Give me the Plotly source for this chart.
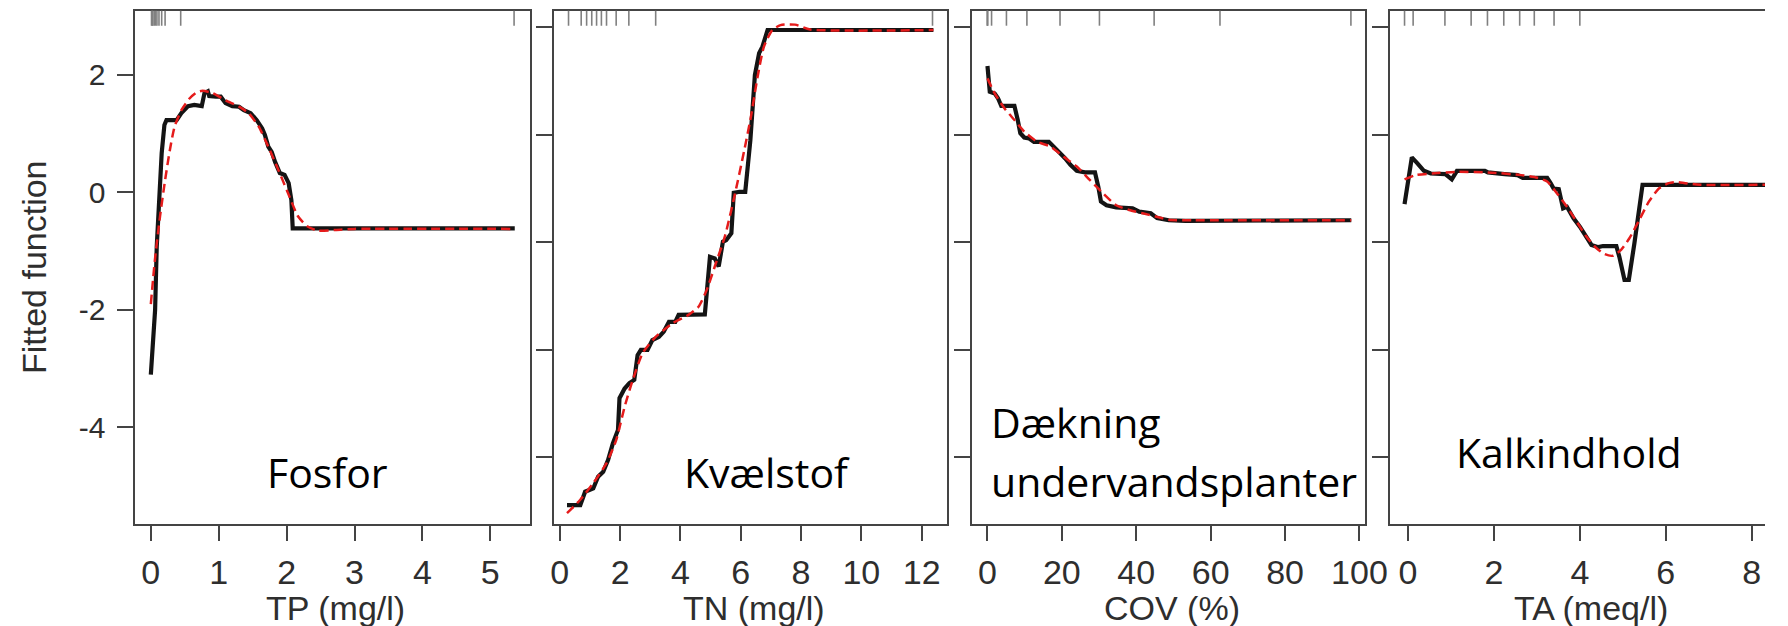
import plotly.graph_objects as go

# ---------------- data ----------------
# Panel 1: TP (mg/l)
tp_x = [0.0, 0.063, 0.087, 0.12, 0.16, 0.20, 0.23, 0.38, 0.45, 0.55, 0.64, 0.75, 0.79, 0.84, 0.86, 0.96,
        1.03, 1.10, 1.20, 1.30, 1.37, 1.47, 1.56, 1.64, 1.68, 1.73, 1.78, 1.83, 1.90, 1.97, 2.03, 2.07, 2.09, 5.36]
tp_y = [-3.1, -2.0, -0.92, -0.01, 0.67, 1.15, 1.23, 1.23, 1.35, 1.47, 1.49, 1.47, 1.69, 1.72, 1.64, 1.63,
        1.63, 1.52, 1.47, 1.46, 1.40, 1.35, 1.23, 1.09, 0.98, 0.78, 0.69, 0.52, 0.33, 0.30, 0.16, -0.13, -0.61, -0.61]
tp_sx = [0.0, 0.06, 0.135, 0.21, 0.28, 0.35, 0.45, 0.57, 0.67, 0.76, 0.91, 1.10, 1.30, 1.44, 1.59, 1.73,
         1.88, 2.02, 2.17, 2.31, 2.46, 2.70, 3.0, 5.36]
tp_sy = [-1.9, -1.15, -0.41, 0.21, 0.72, 1.12, 1.40, 1.60, 1.70, 1.73, 1.69, 1.57, 1.46, 1.35, 1.12, 0.78,
         0.38, -0.01, -0.41, -0.58, -0.65, -0.64, -0.62, -0.62]
tp_rug = [0.01, 0.02, 0.03, 0.05, 0.07, 0.09, 0.12, 0.16, 0.21, 0.44, 5.35]

# Panel 2: TN (mg/l)
tn_x = [0.24, 0.68, 0.84, 1.11, 1.27, 1.44, 1.60, 1.76, 1.93, 1.98, 2.15, 2.31, 2.47, 2.58, 2.69, 2.91, 3.07,
        3.29, 3.45, 3.62, 3.83, 3.94, 4.81, 4.98, 5.14, 5.27, 5.41, 5.52, 5.69, 5.77, 5.96, 6.15, 6.32, 6.43,
        6.47, 6.61, 6.72, 6.89, 12.39]
tn_y = [-4.89, -4.89, -4.64, -4.58, -4.36, -4.27, -4.05, -3.74, -3.49, -2.90, -2.72, -2.62, -2.56, -2.10,
        -2.00, -2.00, -1.82, -1.76, -1.66, -1.48, -1.48, -1.35, -1.34, -0.27, -0.30, -0.45, 0.01, 0.04, 0.17,
        0.92, 0.94, 0.94, 1.90, 2.77, 3.11, 3.52, 3.64, 3.95, 3.95]
tn_sx = [0.24, 0.68, 1.11, 1.55, 1.87, 2.15, 2.42, 2.75, 3.18, 3.73, 4.27, 4.60, 4.87, 5.14, 5.47, 5.79, 6.12,
         6.34, 6.56, 6.77, 7.05, 7.32, 7.8, 8.3, 12.39]
tn_sy = [-5.04, -4.79, -4.48, -4.11, -3.68, -3.06, -2.56, -2.06, -1.76, -1.51, -1.35, -1.20, -0.89, -0.45,
         0.10, 0.85, 1.72, 2.34, 3.08, 3.64, 3.95, 4.04, 4.05, 3.96, 3.95]
tn_rug = [0.29, 0.71, 0.89, 1.06, 1.22, 1.38, 1.55, 1.87, 2.29, 3.18, 12.36]

# Panel 3: COV (%)
cov_x = [0.0, 0.62, 1.94, 2.83, 3.71, 7.24, 8.12, 8.83, 9.89, 11.2, 12.5, 16.5, 17.8, 19.6, 20.9, 22.3, 24.0,
         26.2, 28.9, 29.8, 30.5, 32.0, 34.6, 39.0, 40.8, 43.9, 45.6, 48.7, 53.2, 97.8]
cov_y = [3.28, 2.80, 2.77, 2.68, 2.54, 2.54, 2.28, 2.03, 1.95, 1.93, 1.87, 1.87, 1.78, 1.66, 1.56, 1.44, 1.33,
         1.30, 1.30, 1.03, 0.76, 0.69, 0.65, 0.63, 0.57, 0.54, 0.45, 0.41, 0.40, 0.41]
cov_sx = [0.0, 1.94, 4.6, 7.2, 9.9, 13.4, 17.0, 20.5, 24.0, 27.5, 31.1, 34.6, 38.1, 41.7, 45.2, 48.7, 55.0, 97.8]
cov_sy = [3.05, 2.77, 2.49, 2.28, 2.06, 1.87, 1.78, 1.59, 1.41, 1.16, 0.91, 0.69, 0.60, 0.54, 0.48, 0.42, 0.41, 0.41]
cov_rug = [0.0, 0.0, 0.0, 1.1, 5.1, 10.6, 19.5, 30.1, 44.8, 62.5, 97.7]

# Panel 4: TA (meq/l)
ta_x = [-0.08, 0.09, 0.22, 0.37, 0.53, 0.87, 1.02, 1.14, 1.79, 1.86, 2.25, 2.55, 2.67, 3.24, 3.32, 3.39, 3.51,
        3.55, 3.61, 3.70, 3.85, 4.00, 4.16, 4.27, 4.43, 4.54, 4.85, 4.92, 5.04, 5.14, 5.27, 5.38, 5.46, 8.4]
ta_y = [0.71, 1.58, 1.47, 1.33, 1.28, 1.27, 1.17, 1.33, 1.33, 1.30, 1.27, 1.25, 1.20, 1.20, 1.10, 1.00, 0.99,
        0.82, 0.63, 0.66, 0.45, 0.29, 0.07, -0.05, -0.09, -0.07, -0.07, -0.27, -0.70, -0.70, -0.02, 0.54, 1.07, 1.07]
ta_sx = [-0.08, 0.18, 0.56, 1.10, 1.86, 2.63, 3.01, 3.24, 3.47, 3.70, 3.93, 4.16, 4.39, 4.58, 4.77, 4.96, 5.15,
         5.38, 5.61, 5.84, 6.07, 6.26, 6.45, 6.8, 8.4]
ta_sy = [1.17, 1.25, 1.28, 1.31, 1.30, 1.25, 1.20, 1.13, 0.91, 0.66, 0.38, 0.10, -0.11, -0.22, -0.25, -0.14,
         0.07, 0.41, 0.76, 1.00, 1.10, 1.12, 1.10, 1.07, 1.07]
ta_rug = [-0.08, 0.12, 0.86, 1.47, 1.85, 2.23, 2.60, 2.94, 3.40, 4.00, 8.4]

x_titles = ["TP (mg/l)", "TN (mg/l)", "COV (%)", "TA (meq/l)"]
x_ticks = [[0, 1, 2, 3, 4, 5], [0, 2, 4, 6, 8, 10, 12], [0, 20, 40, 60, 80, 100], [0, 2, 4, 6, 8]]
y_ticks_first = [-4, -2, 0, 2]
y_ticks_other = [-4, -2, 0, 2, 4]
y_title = "Fitted function"

# ---------------- layout geometry ----------------
W, H = 1788, 626
x_domains = [(134.3, 534.6), (559, 957.7), (983.3, 1382.3), (1407.7, 1788)]
y_dom = ((H - 524) / H, (H - 10.7) / H)
x_ranges = [[-0.228, 5.582], [-0.196, 12.833], [-4.159, 101.54], [-0.413, 8.31]]
y_range_first = [-5.643, 3.094]
y_range_other = [-5.241, 4.309]

panels = [
    (tp_x, tp_y, tp_sx, tp_sy, tp_rug),
    (tn_x, tn_y, tn_sx, tn_sy, tn_rug),
    (cov_x, cov_y, cov_sx, cov_sy, cov_rug),
    (ta_x, ta_y, ta_sx, ta_sy, ta_rug),
]

AX = "#444444"
TXT = "#2e2e2e"
fig = go.Figure()
shapes = []
for i, (fx, fy, sx, sy, rug) in enumerate(panels):
    n = "" if i == 0 else str(i + 1)
    fig.add_trace(go.Scatter(x=fx, y=fy, mode="lines", line=dict(color="#141414", width=4.2),
                             xaxis="x" + n, yaxis="y" + n, showlegend=False, hoverinfo="skip"))
    fig.add_trace(go.Scatter(x=sx, y=sy, mode="lines", line=dict(color="#e51b1b", width=2.5, dash="9px,5px",
                             shape="spline", smoothing=0.6),
                             xaxis="x" + n, yaxis="y" + n, showlegend=False, hoverinfo="skip"))
    for r in rug:
        shapes.append(dict(type="line", xref="x" + n, yref="y" + n + " domain", x0=r, x1=r,
                           y0=1, y1=1 - 15 / 513.3, line=dict(color="#808080", width=1.6)))
    x0, x1 = x_domains[i]
    yt = y_ticks_first if i == 0 else y_ticks_other
    fig.layout["xaxis" + n] = dict(
        domain=[x0 / W, x1 / W], range=x_ranges[i], anchor="y" + n,
        showline=True, mirror=True, linecolor=AX, linewidth=2,
        ticks="outside", ticklen=15, tickwidth=2, tickcolor=AX,
        tickvals=x_ticks[i], ticktext=[str(t) for t in x_ticks[i]],
        tickfont=dict(family="Liberation Sans, Arial", size=34, color=TXT),
        ticklabelstandoff=2, showgrid=False, zeroline=False, fixedrange=True)
    fig.layout["yaxis" + n] = dict(
        domain=list(y_dom), range=y_range_first if i == 0 else y_range_other, anchor="x" + n,
        showline=True, mirror=(i < 3), linecolor=AX, linewidth=2,
        ticks="outside", ticklen=16, tickwidth=2, tickcolor=AX,
        tickvals=yt, ticktext=[str(t) for t in yt],
        showticklabels=(i == 0),
        tickfont=dict(family="Liberation Sans, Arial", size=30, color=TXT),
        ticklabelstandoff=6, showgrid=False, zeroline=False, fixedrange=True)

annotations = []
# x-axis titles
title_cx = [337.5, 762.5, 1186, 1611]
for t, cx in zip(x_titles, title_cx):
    annotations.append(dict(text=t, xref="paper", yref="paper", x=cx / W, y=(H - 607.5) / H,
                            xanchor="center", yanchor="middle", showarrow=False,
                            font=dict(family="Liberation Sans, Arial", size=34, color=TXT)))
# y-axis title
annotations.append(dict(text=y_title, xref="paper", yref="paper", x=31 / W, y=(H - 267.5) / H,
                        xanchor="center", yanchor="middle", showarrow=False, textangle=-90,
                        font=dict(family="Liberation Sans, Arial", size=34, color=TXT)))
# panel labels
LBL = dict(family="Open Sans", size=41, color="#000000")
annotations += [
    dict(text="Fosfor", xref="paper", yref="paper", x=329 / W, y=(H - 472) / H,
         xanchor="center", yanchor="middle", showarrow=False, font=LBL),
    dict(text="Kvælstof", xref="paper", yref="paper", x=775 / W, y=(H - 471.8) / H,
         xanchor="center", yanchor="middle", showarrow=False, font=LBL),
    dict(text="Dækning", xref="paper", yref="paper", x=1001 / W, y=(H - 422.4) / H,
         xanchor="left", yanchor="middle", showarrow=False, font=LBL),
    dict(text="undervandsplanter", xref="paper", yref="paper", x=1001 / W, y=(H - 480.8) / H,
         xanchor="left", yanchor="middle", showarrow=False, font=LBL),
    dict(text="Kalkindhold", xref="paper", yref="paper", x=1588.7 / W, y=(H - 452.4) / H,
         xanchor="center", yanchor="middle", showarrow=False, font=LBL),
]

fig.update_layout(width=W, height=H, margin=dict(l=0, r=0, t=0, b=0),
                  paper_bgcolor="white", plot_bgcolor="white",
                  shapes=shapes, annotations=annotations, showlegend=False)

fig.write_html("out.html", config={"displayModeBar": False})
